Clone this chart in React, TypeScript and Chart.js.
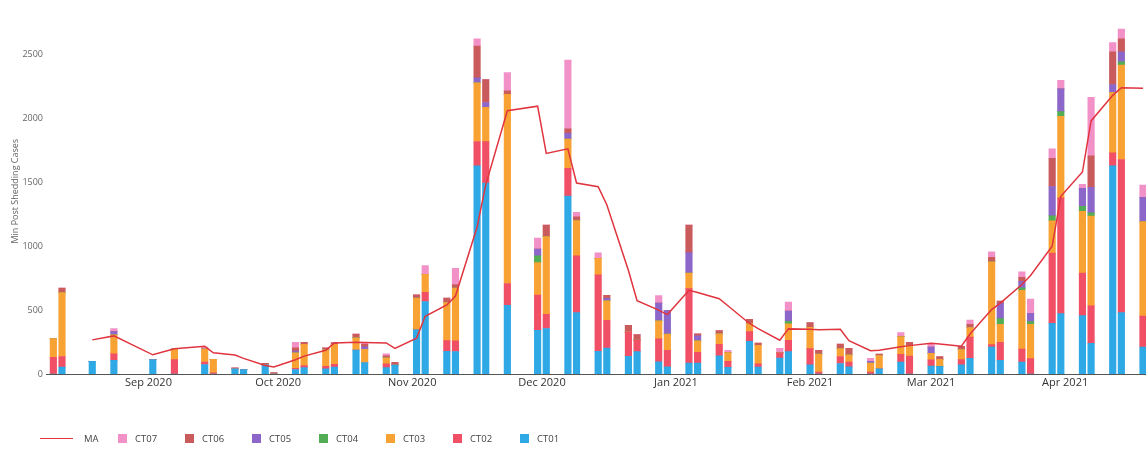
import React, { useEffect, useRef } from 'react';
import { Chart, registerables } from 'chart.js';

Chart.register(...registerables);

// Sampling dates (Mondays and Wednesdays)
const dates = [
  '2020-08-10', '2020-08-12', '2020-08-19', '2020-08-24',
  '2020-09-02', '2020-09-07', '2020-09-14', '2020-09-16', '2020-09-21', '2020-09-23', '2020-09-28', '2020-09-30',
  '2020-10-05', '2020-10-07', '2020-10-12', '2020-10-14', '2020-10-19', '2020-10-21', '2020-10-26', '2020-10-28',
  '2020-11-02', '2020-11-04', '2020-11-09', '2020-11-11', '2020-11-16', '2020-11-18', '2020-11-23', '2020-11-30',
  '2020-12-02', '2020-12-07', '2020-12-09', '2020-12-14', '2020-12-16', '2020-12-21', '2020-12-23', '2020-12-28', '2020-12-30',
  '2021-01-04', '2021-01-06', '2021-01-11', '2021-01-13', '2021-01-18', '2021-01-20', '2021-01-25', '2021-01-27',
  '2021-02-01', '2021-02-03', '2021-02-08', '2021-02-10', '2021-02-15', '2021-02-17', '2021-02-22', '2021-02-24',
  '2021-03-01', '2021-03-03', '2021-03-08', '2021-03-10', '2021-03-15', '2021-03-17', '2021-03-22', '2021-03-24', '2021-03-29', '2021-03-31',
  '2021-04-05', '2021-04-07', '2021-04-12', '2021-04-14', '2021-04-19',
];

const ct01 = [
  0, 55, 99, 107,
  112, 0, 74, 0, 40, 34, 72, 0,
  35, 50, 40, 55, 187, 90, 50, 70,
  346, 567, 177, 176, 1628, 1493, 537, 341,
  356, 1392, 480, 177, 202, 138, 175, 96, 57,
  86, 86, 143, 53, 255, 55, 125, 175,
  71, 0, 82, 56, 0, 41, 94, 0,
  61, 60, 72, 122, 210, 107, 93, 0, 396, 472,
  457, 240, 1628, 480, 210,
];
const ct02 = [
  130, 82, 0, 51,
  0, 112, 20, 10, 0, 0, 0, 0,
  10, 15, 20, 20, 0, 0, 30, 0,
  0, 71, 84, 84, 191, 325, 171, 276,
  111, 217, 444, 599, 217, 191, 90, 179, 128,
  582, 84, 89, 46, 76, 25, 40, 89,
  128, 15, 55, 38, 15, 0, 59, 140,
  50, 0, 40, 166, 20, 140, 102, 120, 549, 906,
  332, 294, 102, 1198, 243,
];
const ct03 = [
  148, 499, 0, 148,
  0, 82, 100, 105, 0, 0, 0, 0,
  120, 168, 130, 158, 95, 103, 47, 0,
  247, 141, 298, 413, 459, 268, 1479, 254,
  608, 229, 276, 128, 153, 0, 0, 140, 127,
  122, 89, 82, 69, 64, 145, 0, 128,
  166, 140, 61, 56, 70, 104, 140, 80,
  50, 55, 80, 76, 648, 141, 459, 268, 254, 637,
  484, 701, 472, 739, 739,
];
const ct04 = [
  0, 0, 0, 0,
  0, 0, 0, 0, 0, 0, 0, 0,
  0, 0, 0, 0, 0, 0, 0, 0,
  0, 0, 0, 0, 0, 0, 0, 54,
  0, 0, 0, 0, 0, 0, 0, 0, 0,
  0, 0, 0, 0, 0, 0, 0, 20,
  0, 0, 0, 0, 0, 0, 0, 0,
  0, 0, 0, 0, 0, 45, 20, 22, 39, 38,
  38, 25, 0, 26, 0,
];
const ct05 = [
  0, 0, 0, 25,
  0, 0, 0, 0, 0, 0, 0, 0,
  15, 0, 0, 0, 0, 20, 0, 0,
  0, 0, 0, 0, 38, 38, 0, 53,
  0, 45, 0, 0, 20, 0, 0, 140, 184,
  159, 40, 0, 0, 0, 0, 0, 81,
  0, 0, 0, 0, 15, 0, 0, 0,
  50, 0, 0, 0, 0, 120, 50, 64, 229, 178,
  141, 200, 63, 77, 191,
];
const ct06 = [
  0, 36, 0, 0,
  0, 0, 0, 0, 9, 0, 12, 12,
  25, 15, 15, 12, 30, 20, 15, 22,
  26, 0, 34, 27, 250, 179, 28, 0,
  89, 34, 30, 0, 23, 51, 43, 0, 0,
  216, 16, 25, 0, 33, 16, 0, 0,
  38, 30, 37, 51, 0, 10, 0, 27,
  0, 22, 25, 25, 35, 18, 32, 0, 220, 0,
  0, 247, 256, 102, 0,
];
const ct07 = [
  0, 0, 0, 25,
  0, 0, 16, 0, 0, 0, 0, 0,
  43, 0, 0, 0, 0, 15, 15, 0,
  0, 69, 0, 126, 56, 0, 143, 85,
  0, 538, 34, 44, 0, 0, 0, 59, 0,
  0, 0, 0, 17, 0, 0, 36, 69,
  0, 0, 0, 0, 23, 0, 31, 0,
  29, 0, 0, 32, 42, 0, 44, 113, 74, 66,
  31, 458, 71, 76, 95,
];
const ma = [
  null, null, 267, 298,
  150, 197, 217, 166, 148, 122, 67, 55,
  112, 140, 186, 243, 248, 246, 243, 200,
  281, 452, 540, 610, 1150, 1480, 2060, 2095,
  1726, 1762, 1494, 1465, 1324, 810, 573, 500, 465,
  655, 637, 589, 534, 395, 355, 264, 353,
  351, 346, 350, 260, 182, 185, 214, 222,
  240, 235, 217, 313, 504, 554, 700, 770, 1000, 1390,
  1580, 1980, 2180, 2240, 2235,
];

const monthTicks = ['2020-09-01', '2020-10-01', '2020-11-01', '2020-12-01', '2021-01-01', '2021-02-01', '2021-03-01', '2021-04-01'];
const monthLabels = ['Sep 2020', 'Oct 2020', 'Nov 2020', 'Dec 2020', 'Jan 2021', 'Feb 2021', 'Mar 2021', 'Apr 2021'];
const yTicks = [0, 500, 1000, 1500, 2000, 2500];
const yTickLabels = ['0', '500', '1000', '1500', '2000', '2500'];

const seriesNames = ['CT01', 'CT02', 'CT03', 'CT04', 'CT05', 'CT06', 'CT07'];
const seriesValues = [ct01, ct02, ct03, ct04, ct05, ct06, ct07];
const seriesColors: Record<string, string> = {
  CT01: '#2fa9e6',
  CT02: '#f14f66',
  CT03: '#f8a233',
  CT04: '#52ad55',
  CT05: '#8c66c8',
  CT06: '#c95b5c',
  CT07: '#f291c8',
};
const maColor = '#e0343f';

const ORIGIN = Date.UTC(2020, 8, 1);
const toDay = (s: string) => {
  const [y, m, d] = s.split('-').map(Number);
  return (Date.UTC(y, m - 1, d) - ORIGIN) / 86400000;
};

const FONT = '"Open Sans", "DejaVu Sans", sans-serif';

export default function App() {
  const ref = useRef<HTMLCanvasElement | null>(null);

  useEffect(() => {
    if (!ref.current) return;
    const xs = dates.map(toDay);
    const barSets = seriesNames.map((name, i) => ({
      type: 'bar' as const,
      label: name,
      data: xs.map((x, j) => ({ x, y: seriesValues[i][j] })),
      backgroundColor: seriesColors[name],
      borderWidth: 0,
      barThickness: 6.5,
      stack: 'ct',
      order: 1,
    }));
    const lineSet = {
      type: 'line' as const,
      label: 'MA',
      data: xs.map((x, j) => ({ x, y: ma[j] })),
      borderColor: maColor,
      backgroundColor: maColor,
      borderWidth: 1.5,
      pointRadius: 0,
      tension: 0,
      spanGaps: false,
      stack: 'ma',
      order: 0,
    };
    const chart = new Chart(ref.current, {
      type: 'bar',
      data: { datasets: [...barSets, lineSet] as any },
      options: {
        animation: false,
        responsive: false,
        maintainAspectRatio: false,
        layout: { padding: 0 },
        plugins: { legend: { display: false }, tooltip: { enabled: false } },
        scales: {
          x: {
            type: 'linear',
            stacked: true,
            min: -23.7,
            max: 230.7,
            offset: false,
            grid: { display: false, drawTicks: false },
            border: { display: true, color: '#555', width: 1 },
            afterBuildTicks: (s: any) => {
              s.ticks = monthTicks.map((d) => ({ value: toDay(d) }));
            },
            afterFit: (s: any) => {
              s.height = 79;
            },
            ticks: {
              autoSkip: false,
              maxRotation: 0,
              padding: 2,
              color: '#333',
              font: { family: FONT, size: 11 },
              callback: (_v: any, i: number) => monthLabels[i],
            },
          },
          y: {
            stacked: true,
            min: 0,
            max: 2860,
            grid: { display: false, drawTicks: false },
            border: { display: false },
            afterBuildTicks: (s: any) => {
              s.ticks = yTicks.map((v) => ({ value: v }));
            },
            afterFit: (s: any) => {
              s.width = 46;
            },
            ticks: {
              padding: 3,
              color: '#666',
              font: { family: FONT, size: 9 },
              callback: (_v: any, i: number) => yTickLabels[i],
            },
            title: {
              display: true,
              text: 'Min Post Shedding Cases',
              color: '#666',
              font: { family: FONT, size: 9 },
              padding: { top: 10, bottom: 0 },
            },
          },
        },
      } as any,
    });
    return () => chart.destroy();
  }, []);

  const legendOrder = [...seriesNames].reverse();

  return (
    <div style={{ position: 'fixed', left: 0, top: 0, width: 1146, height: 453, background: '#fff', overflow: 'hidden' }}>
      <canvas ref={ref} width={1146} height={453} style={{ display: 'block', width: 1146, height: 453 }} />
      <div
        style={{
          position: 'absolute',
          left: 40,
          top: 431,
          height: 14,
          display: 'flex',
          alignItems: 'center',
          fontFamily: FONT,
          fontSize: 9.5,
          color: '#444',
          whiteSpace: 'nowrap',
        }}
      >
        <div style={{ display: 'flex', alignItems: 'center', width: 78 }}>
          <span style={{ display: 'inline-block', width: 33, height: 0, borderTop: `1.5px solid ${maColor}`, marginRight: 11 }} />
          <span>MA</span>
        </div>
        {legendOrder.map((name) => (
          <div key={name} style={{ display: 'flex', alignItems: 'center', width: 67 }}>
            <span style={{ display: 'inline-block', width: 9, height: 9, background: seriesColors[name], marginRight: 8 }} />
            <span>{name}</span>
          </div>
        ))}
      </div>
    </div>
  );
}
